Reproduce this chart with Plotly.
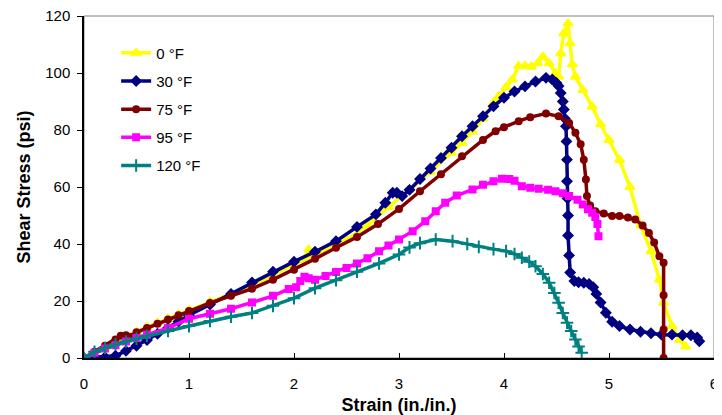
import plotly.graph_objects as go

# =========================
# DADES (llegides del gràfic)
# =========================
strain_0f = [0, 0.1, 0.2, 0.3, 0.4, 0.5, 0.6, 0.7, 0.8, 0.9, 1.0, 1.2, 1.4, 1.6, 1.8, 2.0, 2.1, 2.14, 2.18,
             2.3, 2.5, 2.7, 2.9, 3.1, 3.3, 3.5, 3.6, 3.7, 3.8, 3.9, 3.95, 4.02, 4.08, 4.14, 4.2, 4.26, 4.32,
             4.37, 4.43, 4.49, 4.52, 4.54, 4.57, 4.61, 4.63, 4.65, 4.68, 4.75, 4.84, 4.92, 5.0, 5.1, 5.2,
             5.3, 5.4, 5.48, 5.52, 5.6, 5.67, 5.73]
stress_0f = [0, 1.5, 3.5, 5.5, 7.5, 9.2, 10.8, 12.3, 13.8, 15.3, 16.8, 19.8, 22.5, 25.2, 29, 33, 34.5, 38, 35.4,
             37.8, 41.5, 46.5, 53, 59, 65.3, 72, 75.5, 79.5, 84, 89.5, 91.9, 95, 97.7, 102.4, 102.5, 102.2, 103.4,
             105.7, 103.4, 99.9, 98.7, 106.9, 113.9, 117.4, 110.4, 103, 98.7, 94, 88.2, 82, 76.5, 69.5, 60,
             46.5, 37.5, 27.5, 19.4, 11.2, 6.3, 4]

strain_30f = [0, 0.1, 0.2, 0.3, 0.4, 0.5, 0.6, 0.7, 0.8, 0.9, 1.0, 1.2, 1.4, 1.6, 1.8, 2.0, 2.2, 2.4, 2.6,
              2.78, 2.87, 2.94, 2.98, 3.03, 3.1, 3.2, 3.3, 3.4, 3.5, 3.6, 3.7, 3.8, 3.9, 4.0, 4.1, 4.2, 4.3,
              4.4, 4.46, 4.5, 4.52, 4.54, 4.56, 4.57, 4.58, 4.59, 4.595, 4.6, 4.6, 4.605, 4.61, 4.61, 4.62,
              4.63, 4.67, 4.71, 4.76, 4.81, 4.85, 4.88, 4.92, 4.97, 5.03, 5.1, 5.2, 5.3, 5.4, 5.5, 5.6, 5.7,
              5.78, 5.84, 5.86]
stress_30f = [0, 0.2, 0.3, 0.8, 2.5, 4.3, 6.3, 8.5, 10.5, 12.8, 15, 18.8, 22.5, 26.5, 30.3, 33.8, 37.3, 41, 46,
              50.4, 54.5, 58, 58, 56.8, 59, 62.8, 66.5, 70.2, 73.8, 77.8, 81.3, 84.8, 88.3, 91.3, 93.5, 95.3, 97,
              98.3, 97.7, 96.5, 95.4, 93, 90, 87.2, 84, 81.3, 76, 69.6, 62, 56, 50, 43, 36,
              30, 27, 26.6, 26.4, 26, 24.8, 22.5, 19.5, 15.9, 12.7, 11.2, 10, 9.2, 8.7, 8.2, 8.2, 8,
              8, 7.2, 5.9]

strain_75f = [0, 0.1, 0.2, 0.3, 0.35, 0.4, 0.45, 0.5, 0.6, 0.7, 0.8, 0.9, 1.0, 1.2, 1.4, 1.6, 1.8, 2.0, 2.2,
              2.4, 2.6, 2.8, 3.0, 3.2, 3.4, 3.6, 3.8, 3.92, 4.0, 4.14, 4.25, 4.4, 4.52, 4.62, 4.68, 4.73, 4.76,
              4.78, 4.79, 4.82, 4.87, 4.95, 5.03, 5.1, 5.18, 5.25, 5.32, 5.38, 5.43, 5.48, 5.52, 5.52, 5.52, 5.52]
stress_75f = [0, 2.2, 4.3, 6.5, 7.8, 8, 7.5, 9, 10.5, 12, 13.5, 15, 16.5, 19.3, 21.8, 24.3, 27.5, 31, 34.8,
              38.7, 42.5, 47, 52.3, 58.5, 64.5, 70.8, 76.5, 79.6, 81, 83.1, 84.5, 85.8, 84.8, 82.5, 79, 75, 69.6,
              62.6, 56.8, 53.5, 51.5, 50.7, 49.8, 49.8, 49.3, 48.6, 46.5, 43.9, 40.5, 35.7, 33.4, 22, 10, 0]

strain_95f = [0, 0.1, 0.2, 0.3, 0.4, 0.5, 0.6, 0.8, 1.0, 1.2, 1.4, 1.6, 1.8, 1.95, 2.02, 2.06, 2.1, 2.14, 2.2,
              2.3, 2.4, 2.5, 2.6, 2.7, 2.81, 2.9, 3.0, 3.13, 3.25, 3.35, 3.44, 3.55, 3.7, 3.8, 3.9, 3.98, 4.05,
              4.1, 4.17, 4.25, 4.33, 4.42, 4.49, 4.56, 4.62, 4.7, 4.75, 4.8, 4.84, 4.87, 4.89, 4.9]
stress_95f = [0, 1.8, 3.3, 4.5, 5.8, 7, 8.2, 10.5, 13.8, 15.5, 17.3, 19.5, 21.8, 24.2, 24.8, 27, 28.5, 28, 27.5,
              28.8, 30.2, 31.6, 33.2, 35, 37.5, 39.5, 41.6, 44.5, 48, 51.5, 54.5, 57, 59.1, 60.8, 62, 62.9, 62.8,
              62.2, 60.3, 59.7, 59.4, 59, 58.5, 57.8, 56.8, 55.5, 53.9, 52.2, 51, 49.5, 47, 42.7]

strain_120f = [0, 0.1, 0.2, 0.3, 0.4, 0.5, 0.6, 0.8, 1.0, 1.2, 1.4, 1.6, 1.8, 2.0, 2.2, 2.4, 2.6, 2.81, 3.0,
               3.1, 3.2, 3.35, 3.51, 3.65, 3.76, 3.9, 4.02, 4.1, 4.17, 4.24, 4.3, 4.37, 4.43, 4.48, 4.52, 4.56,
               4.6, 4.64, 4.68, 4.71, 4.74]
stress_120f = [0, 2.2, 3.5, 4.8, 5.8, 6.8, 7.8, 9.5, 11.2, 13, 14.5, 15.8, 18.3, 21, 24.5, 27.3, 30.3, 33.2, 36.3,
               38.8, 40.3, 41.6, 41, 40, 39, 38.2, 37.5, 36.5, 35.2, 33.8, 32.2, 29.5, 26.4, 22.8, 19.4, 15.8,
               12.4, 9.5, 6.5, 4, 1.8]

series = [
    ("0 °F", strain_0f, stress_0f, "#FFFF00", "triangle-up", 8),
    ("30 °F", strain_30f, stress_30f, "#000080", "diamond", 7),
    ("75 °F", strain_75f, stress_75f, "#800000", "circle", 6),
    ("95 °F", strain_95f, stress_95f, "#FF00FF", "square", 6),
    ("120 °F", strain_120f, stress_120f, "#008080", "cross-thin", 9),
]

# =========================
# GRÀFIC
# =========================
fig = go.Figure()
for i, (nom, xs, ys, col, simb, mida) in enumerate(series):
    fig.add_trace(go.Scatter(
        x=xs, y=ys, name=nom, mode="lines+markers", legendgroup=str(i),
        line=dict(color=col, width=3.5),
        marker=dict(symbol=simb, size=mida, color=col, line=dict(color=col, width=2)),
    ))

# la pàgina té 8 px de marge al body: la figura és 8 px més petita
font = "Liberation Sans, Arial, sans-serif"
fig.update_layout(
    width=714, height=407,
    margin=dict(l=76, r=8, t=8, b=57),
    paper_bgcolor="white", plot_bgcolor="white",
    font=dict(family=font, size=15, color="black"),
    showlegend=True,
    legend=dict(x=0.051, y=0.94, xanchor="left", yanchor="top", bgcolor="rgba(0,0,0,0)",
                font=dict(size=15), tracegroupgap=5.7, traceorder="grouped"),
    xaxis=dict(range=[0, 6], dtick=1, showgrid=False, zeroline=False, showline=True, automargin=False,
               linecolor="black", linewidth=1.5, ticks="inside", ticklen=5, tickcolor="black",
               ticklabelstandoff=11, ticklabeloverflow="allow",
               title=dict(text="<b>Strain (in./in.)</b>", standoff=8)),
    yaxis=dict(range=[0, 120], dtick=20, showgrid=False, zeroline=False, showline=True, automargin=False,
               linecolor="black", linewidth=1.5, ticks="outside", ticklen=5, tickcolor="black",
               ticklabelstandoff=4, ticklabeloverflow="allow",
               title=dict(text="<b>Shear Stress (psi)</b>", standoff=10)),
    shapes=[dict(type="rect", xref="paper", yref="paper", x0=0, y0=0, x1=1, y1=1,
                 line=dict(color="#808080", width=1), layer="below")],
)

fig.write_html("out.html")
